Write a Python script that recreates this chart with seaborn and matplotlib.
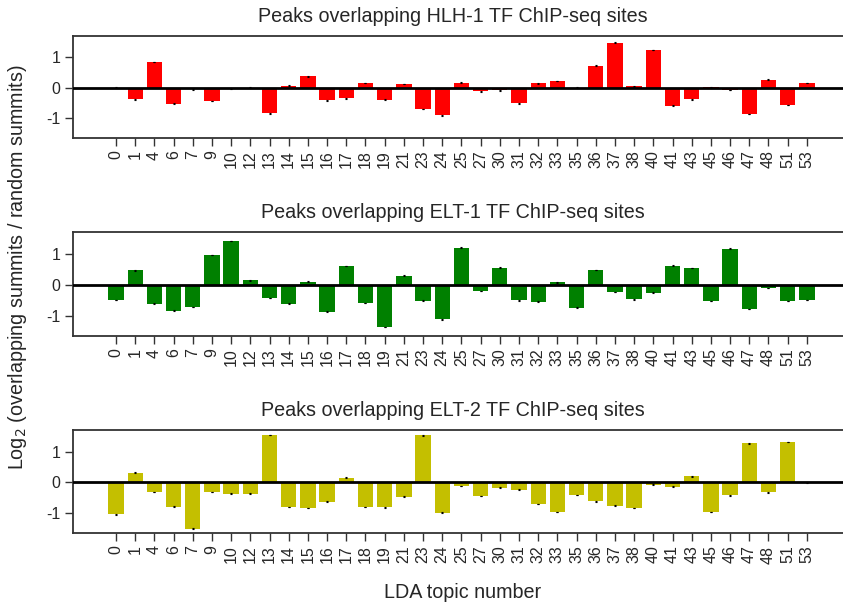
import matplotlib
matplotlib.use("Agg")
import matplotlib.pyplot as plt
import seaborn as sns
import pandas as pd

sns.set_theme(style="white")
plt.rcParams['font.family'] = ['Liberation Sans', 'DejaVu Sans']

topics = ["0", "1", "4", "6", "7", "9", "10", "12", "13", "14", "15", "16", "17", "18",
          "19", "21", "23", "24", "25", "27", "30", "31", "32", "33", "35", "36", "37",
          "38", "40", "41", "43", "45", "46", "47", "48", "51", "53"]

hlh1 = [0.0, -0.38, 0.84, -0.52, -0.05, -0.43, -0.03, 0.0, -0.84, 0.07, 0.37, -0.41,
        -0.35, 0.16, -0.39, 0.12, -0.70, -0.91, 0.17, -0.12, -0.08, -0.51, 0.14, 0.22,
        0.0, 0.73, 1.48, 0.05, 1.24, -0.59, -0.38, 0.01, -0.07, -0.86, 0.27, -0.56, 0.15]

elt1 = [-0.49, 0.46, -0.61, -0.83, -0.71, 0.96, 1.41, 0.14, -0.43, -0.61, 0.10, -0.87,
        0.60, -0.59, -1.36, 0.29, -0.51, -1.11, 1.20, -0.20, 0.55, -0.50, -0.54, 0.08,
        -0.74, 0.48, -0.23, -0.47, -0.25, 0.62, 0.54, -0.52, 1.16, -0.78, -0.10, -0.52,
        -0.49]

elt2 = [-1.04, 0.31, -0.32, -0.79, -1.51, -0.32, -0.37, -0.37, 1.54, -0.81, -0.84,
        -0.63, 0.15, -0.81, -0.82, -0.47, 1.53, -0.99, -0.12, -0.45, -0.18, -0.24,
        -0.71, -0.97, -0.42, -0.62, -0.76, -0.84, -0.08, -0.14, 0.19, -0.97, -0.43,
        1.27, -0.33, 1.31, 0.0]

titles = ["Peaks overlapping HLH-1 TF ChIP-seq sites",
          "Peaks overlapping ELT-1 TF ChIP-seq sites",
          "Peaks overlapping ELT-2 TF ChIP-seq sites"]
colors = ["#FF0000", "#008000", "#C4BF00"]
series = [hlh1, elt1, elt2]
err = 0.01

W, H = 843, 607
fig = plt.figure(figsize=(W / 100, H / 100), dpi=100)

# axes boxes in pixels: (left, top, right, bottom)
boxes = [(73, 36, 851, 138), (73, 232, 851, 336), (73, 430, 851, 533)]
spine_col = "#333333"

for vals, title, col, (l, t, r, b) in zip(series, titles, colors, boxes):
    ax = fig.add_axes([l / W, 1 - b / H, (r - l) / W, (b - t) / H])
    df = pd.DataFrame({"topic": topics, "value": vals})
    sns.barplot(data=df, x="topic", y="value", order=topics, color=col,
                width=0.8, errorbar=None, saturation=1, edgecolor="none", ax=ax)
    ax.errorbar(range(len(topics)), vals, yerr=err, fmt="none", ecolor="black",
                elinewidth=0.8, capsize=1, capthick=0.8)
    ax.axhline(0, color="black", lw=2, zorder=5)
    ax.set_xlim(-2.24, 38.3)
    ax.set_ylim(-1.65, 1.70)
    ax.set_yticks([-1, 0, 1])
    ax.set_yticklabels(["-1", "0", "1"])
    ax.set_xlabel("")
    ax.set_ylabel("")
    ax.tick_params(axis="x", labelrotation=90, labelsize=11.5, length=6, width=1,
                   color=spine_col, direction="out", bottom=True, pad=3)
    ax.tick_params(axis="y", labelsize=11.5, length=6, width=1, color=spine_col,
                   direction="out", left=True, pad=3)
    for s in ["left", "top", "bottom"]:
        ax.spines[s].set_color(spine_col)
        ax.spines[s].set_linewidth(1.3)
    ax.spines["right"].set_visible(False)
    fig.text(453 / W, 1 - (t - 19) / H, title, ha="center", va="center", fontsize=14.2)

fig.text(18 / W, 1 - 267 / H, "Log$_2$ (overlapping summits / random summits)",
         rotation=90, ha="center", va="center", fontsize=14.2)
fig.text(463 / W, 1 - 593 / H, "LDA topic number", ha="center", va="center",
         fontsize=14.2)

fig.savefig("out.png", dpi=100, facecolor="white")
